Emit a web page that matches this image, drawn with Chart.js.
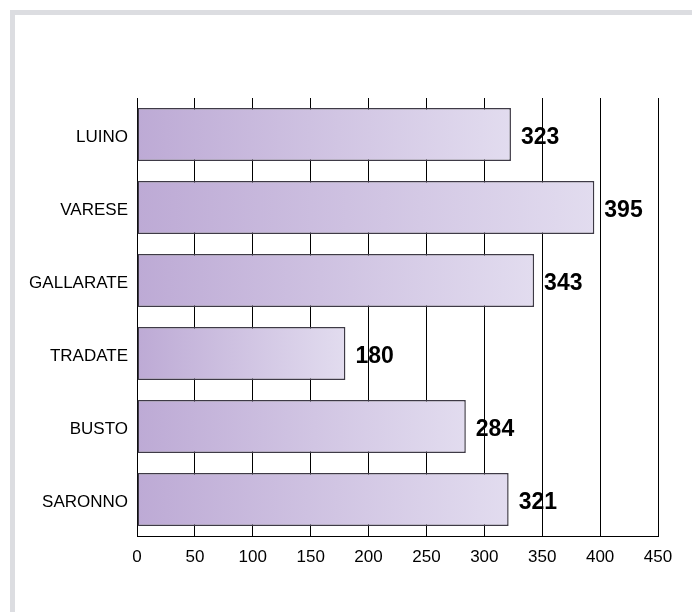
<!DOCTYPE html>
<html>
<head>
<meta charset="utf-8">
<script src="https://cdn.jsdelivr.net/npm/chart.js@4/dist/chart.umd.min.js"></script>
<style>
  body { margin: 0; background: #fff; }
  #frame {
    position: absolute; left: 10px; top: 10px; right: 0; bottom: 0;
    border-top: 5px solid #dcdde1; border-left: 5px solid #dcdde1;
  }
  #wrap { position: absolute; left: 0; top: 0; width: 692px; height: 612px; }
</style>
</head>
<body>
<div id="frame"></div>
<div id="wrap"><canvas id="cityChart" width="692" height="612"></canvas></div>
<script>
const cities = ["LUINO", "VARESE", "GALLARATE", "TRADATE", "BUSTO", "SARONNO"];
const totals = [323, 395, 343, 180, 284, 321];
const xTicks = [0, 50, 100, 150, 200, 250, 300, 350, 400, 450];

const fontFamily = "'Liberation Sans', Arial, Helvetica, sans-serif";

function barGradient(context) {
    const chart = context.chart;
    const area = chart.chartArea;
    if (!area || context.raw === undefined) return "#c8b9dc";
    const xScale = chart.scales.x;
    const x0 = xScale.getPixelForValue(0);
    const x1 = xScale.getPixelForValue(context.raw);
    const g = chart.ctx.createLinearGradient(x0, 0, x1, 0);
    g.addColorStop(0, "#bdaad5");
    g.addColorStop(1, "#e2dcef");
    return g;
}

// valeurs en gras à droite des barres
const valueLabels = {
    id: "valueLabels",
    afterDatasetsDraw(chart) {
        const ctx = chart.ctx;
        const meta = chart.getDatasetMeta(0);
        ctx.save();
        ctx.font = "bold 23px " + fontFamily;
        ctx.fillStyle = "#000";
        ctx.textAlign = "left";
        ctx.textBaseline = "middle";
        meta.data.forEach((bar, i) => {
            ctx.fillText(String(totals[i]), bar.x + 10, bar.y + 3);
        });
        ctx.restore();
    }
};

new Chart(document.getElementById("cityChart"), {
    type: "bar",
    data: {
        labels: cities,
        datasets: [{
            data: totals,
            backgroundColor: barGradient,
            borderColor: "#3e3a46",
            borderWidth: 1.5,
            borderSkipped: false,
            categoryPercentage: 1,
            barPercentage: 0.725
        }]
    },
    options: {
        indexAxis: "y",
        responsive: false,
        animation: false,
        layout: { padding: { top: 98, right: 34, bottom: 0, left: 0 } },
        plugins: {
            legend: { display: false },
            tooltip: { enabled: false }
        },
        scales: {
            x: {
                min: 0,
                max: 450,
                afterBuildTicks: (scale) => { scale.ticks = xTicks.map(v => ({ value: v })); },
                afterFit: (scale) => { scale.height = 76; },
                grid: { color: "#000", lineWidth: 1, drawTicks: false },
                border: { color: "#000", width: 1 },
                ticks: {
                    padding: 11,
                    color: "#000",
                    font: { family: fontFamily, size: 17 }
                }
            },
            y: {
                afterFit: (scale) => { scale.width = 137; },
                grid: { display: false, drawTicks: false },
                border: { display: false },
                ticks: {
                    padding: 9,
                    labelOffset: 3,
                    color: "#000",
                    font: { family: fontFamily, size: 17 }
                }
            }
        }
    },
    plugins: [valueLabels]
});
</script>
</body>
</html>
